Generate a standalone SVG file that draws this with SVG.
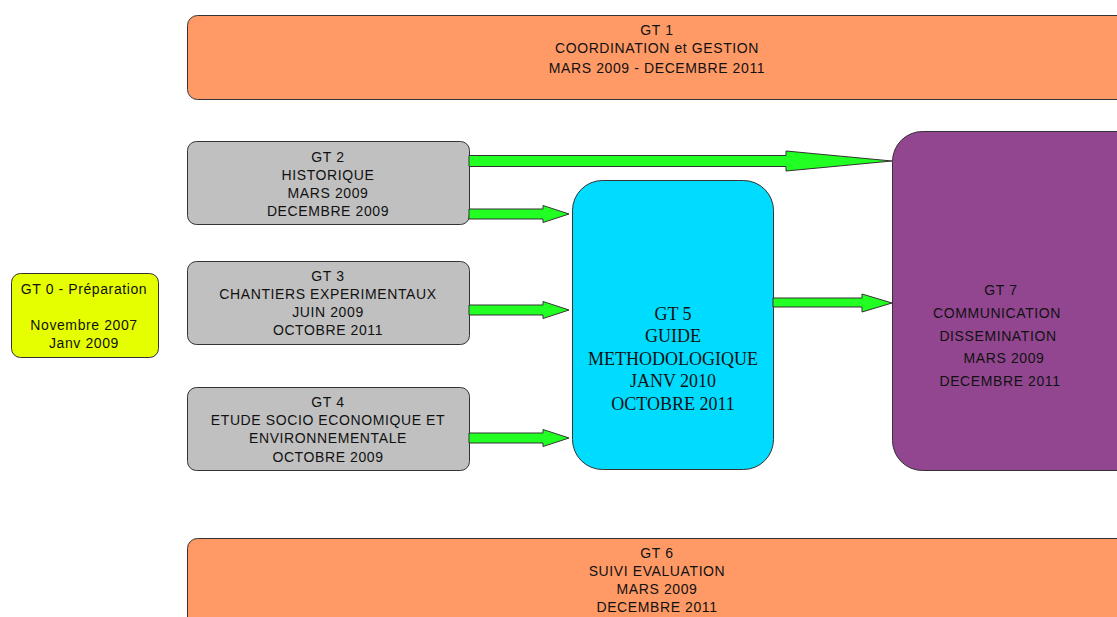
<svg xmlns="http://www.w3.org/2000/svg" width="1117" height="617" viewBox="0 0 1117 617">
<style>
.box{stroke:#333;stroke-width:1}
.t{font-family:"Liberation Sans",Arial,sans-serif;font-size:14px;letter-spacing:0.6px;fill:#111;text-anchor:middle;dominant-baseline:central}
.s{font-family:"Liberation Serif","Times New Roman",serif;font-size:18px;fill:#111;text-anchor:middle;dominant-baseline:central}
.arr{fill:#22ff22;stroke:#333;stroke-width:1;stroke-linejoin:miter}
</style>
<rect width="1117" height="617" fill="#fff"/>
<g id="gt1">
<rect class="box" x="187.5" y="15.5" width="960" height="84" rx="10" fill="#ff9a66"/>
<text class="t" x="657" y="30">GT 1</text>
<text class="t" x="657" y="48">COORDINATION et GESTION</text>
<text class="t" x="657" y="68">MARS 2009 - DECEMBRE 2011</text>
</g>
<g id="gt0">
<rect class="box" x="11.5" y="273.5" width="147" height="84" rx="9" fill="#e6ff00"/>
<text class="t" x="84" y="289">GT 0 - Préparation</text>
<text class="t" x="84" y="325">Novembre 2007</text>
<text class="t" x="84" y="343">Janv 2009</text>
</g>
<g id="gt2">
<rect class="box" x="187.5" y="141.5" width="282" height="83" rx="9" fill="#c0c0c0"/>
<text class="t" x="328" y="157">GT 2</text>
<text class="t" x="328" y="175">HISTORIQUE</text>
<text class="t" x="328" y="193">MARS 2009</text>
<text class="t" x="328" y="211">DECEMBRE 2009</text>
</g>
<g id="gt3">
<rect class="box" x="187.5" y="261.5" width="282" height="83" rx="9" fill="#c0c0c0"/>
<text class="t" x="328" y="276">GT 3</text>
<text class="t" x="328" y="294">CHANTIERS EXPERIMENTAUX</text>
<text class="t" x="328" y="312">JUIN 2009</text>
<text class="t" x="328" y="330">OCTOBRE 2011</text>
</g>
<g id="gt4">
<rect class="box" x="187.5" y="387.5" width="282" height="83" rx="9" fill="#c0c0c0"/>
<text class="t" x="328" y="402">GT 4</text>
<text class="t" x="328" y="420">ETUDE SOCIO ECONOMIQUE ET</text>
<text class="t" x="328" y="438">ENVIRONNEMENTALE</text>
<text class="t" x="328" y="457">OCTOBRE 2009</text>
</g>
<g id="gt5">
<rect class="box" x="572.5" y="180.5" width="201" height="289" rx="30" fill="#00dcff"/>
<text class="s" x="673" y="314">GT 5</text>
<text class="s" x="673" y="336">GUIDE</text>
<text class="s" x="673" y="359">METHODOLOGIQUE</text>
<text class="s" x="673" y="381">JANV 2010</text>
<text class="s" x="673" y="404">OCTOBRE 2011</text>
</g>
<g id="gt7">
<rect class="box" x="892.5" y="131.5" width="260" height="339" rx="30" fill="#924690"/>
<text class="t" x="1001" y="290">GT 7</text>
<text class="t" x="997" y="313">COMMUNICATION</text>
<text class="t" x="998" y="336">DISSEMINATION</text>
<text class="t" x="1004" y="358">MARS 2009</text>
<text class="t" x="1000" y="381">DECEMBRE 2011</text>
</g>
<g id="gt6">
<rect class="box" x="187.5" y="538.5" width="960" height="100" rx="10" fill="#ff9a66"/>
<text class="t" x="657" y="553">GT 6</text>
<text class="t" x="657" y="571">SUIVI EVALUATION</text>
<text class="t" x="657" y="589">MARS 2009</text>
<text class="t" x="657" y="607">DECEMBRE 2011</text>
</g>
<g id="connectors">
<polygon class="arr" points="469,155.5 786,155.5 786,151 892,161 786,171 786,166.5 469,166.5"/>
<polygon class="arr" points="469,209 543,209 543,205.5 569,214 543,222.5 543,219 469,219"/>
<polygon class="arr" points="469,305 543,305 543,301.5 569,310 543,318.5 543,315 469,315"/>
<polygon class="arr" points="469,433 543,433 543,429.5 569,438 543,446.5 543,443 469,443"/>
<polygon class="arr" points="773,298 862,298 862,294 892,303 862,312 862,307 773,307"/>
</g>
</svg>
